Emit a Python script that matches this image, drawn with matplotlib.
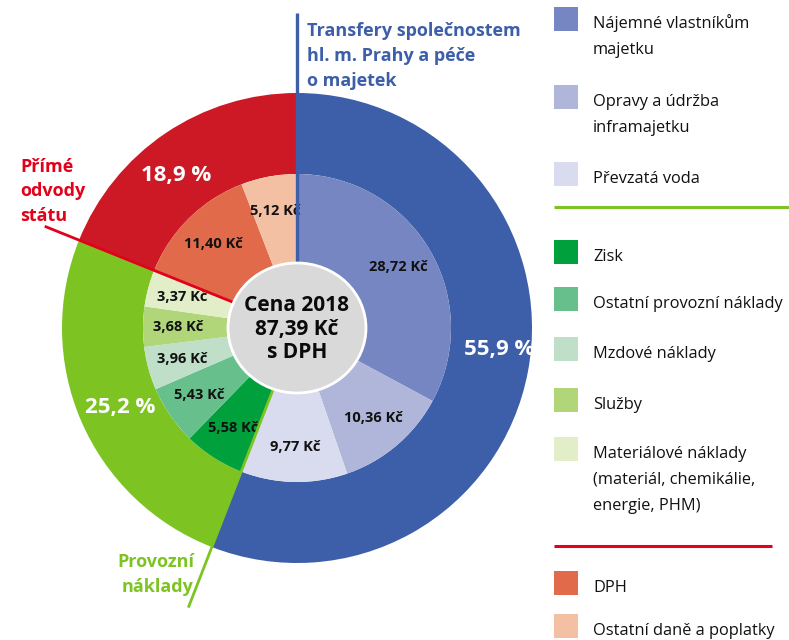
import numpy as np
import matplotlib.pyplot as plt
from matplotlib.patches import Ellipse, Rectangle

plt.rcParams['font.family'] = ['Open Sans', 'DejaVu Sans']

# outer ring - share of the price (%)
group_names = ['Transfery společnostem\nhl. m. Prahy a péče\no majetek',
               'Provozní\nnáklady',
               'Přímé\nodvody\nstátu']
group_pct = [55.9, 25.2, 18.9]
group_colors = ['#3d5ea8', '#7dc423', '#cd1926']
group_line_colors = ['#3d5ea8', '#7dc423', '#e2001a']

# inner pie - Kč per m3
item_names = ['Nájemné vlastníkům\nmajetku',
              'Opravy a údržba\ninframajetku',
              'Převzatá voda',
              'Zisk',
              'Ostatní provozní náklady',
              'Mzdové náklady',
              'Služby',
              'Materiálové náklady\n(materiál, chemikálie,\nenergie, PHM)',
              'DPH',
              'Ostatní daně a poplatky']
item_kc = [28.72, 10.36, 9.77, 5.58, 5.43, 3.96, 3.68, 3.37, 11.40, 5.12]
item_colors = ['#7686c2', '#b0b5da', '#d9dbee',
               '#00a03d', '#67c08c', '#bfdfc8', '#b0d679', '#e1eec8',
               '#e06a4a', '#f3c0a3']
center_text = 'Cena 2018\n87,39 Kč\ns DPH'

fig = plt.figure(figsize=(7.89, 6.4), dpi=100)
ax = fig.add_axes([0, 0, 1, 1])

cx, cy = 297, 328
r_out, r_in = 235, 154

ax.pie(group_pct, radius=r_out, center=(cx, cy), startangle=-90, counterclock=True,
       colors=group_colors, wedgeprops=dict(width=r_out - r_in, linewidth=0))

labels = [f'{v:.2f} Kč'.replace('.', ',') for v in item_kc]
wedges, texts = ax.pie(item_kc, radius=r_in, center=(cx, cy), startangle=-90,
                       counterclock=True, colors=item_colors, labels=labels,
                       labeldistance=0.77, wedgeprops=dict(linewidth=0),
                       textprops=dict(fontsize=10.5, fontweight='bold', color='#111111'))
for t in texts:
    t.set_ha('center')
    t.set_va('center')

ax.set_xlim(0, 789)
ax.set_ylim(640, 0)
ax.set_aspect('equal')
ax.axis('off')

# separator lines at the start of each group
starts = np.cumsum([0] + group_pct[:-1]) / 100
line_len = [315, 300, 272]
line_w = [2.4, 2.0, 2.0]
for frac, col, ln, lw in zip(starts, group_line_colors, line_len, line_w):
    a = np.deg2rad(-90 + frac * 360)
    ax.plot([cx, cx + ln * np.cos(a)], [cy, cy + ln * np.sin(a)], color=col, lw=lw,
            solid_capstyle='butt', zorder=4)

ax.add_patch(Ellipse((cx, cy), 138, 130, facecolor='#d9d9d9', edgecolor='white', lw=2, zorder=5))
ax.text(cx, cy + 1, center_text, ha='center', va='center', fontsize=15, fontweight='bold',
        linespacing=1.15, color='#0a0a0a', zorder=6)

# percentages in the ring
pct_pos = [(499, 350), (120, 408), (176, 176)]
for p, (x, y) in zip(group_pct, pct_pos):
    ax.text(x, y, f'{p:.1f} %'.replace('.', ','), ha='center', va='center', color='white',
            fontsize=16, fontweight='bold', zorder=6)


def lines(x, y0, txt, step, **kw):
    for k, s in enumerate(txt.split('\n')):
        ax.text(x, y0 + k * step, s, **kw)


# group names
lines(307, 31, group_names[0], 25, ha='left', va='center', fontsize=13,
      fontweight='bold', color=group_line_colors[0])
lines(194, 562, group_names[1], 25, ha='right', va='center', fontsize=13,
      fontweight='bold', color=group_line_colors[1])
lines(20, 167, group_names[2], 24.5, ha='left', va='center', fontsize=13,
      fontweight='bold', color=group_line_colors[2])

# legend
sq_tops = [7, 85, 162, 240, 287, 337, 388, 437, 571, 614]
for name, col, top in zip(item_names, item_colors, sq_tops):
    ax.add_patch(Rectangle((554, top), 24, 24, facecolor=col, edgecolor='none'))
    lines(593, top + 21, name, 26, ha='left', va='baseline', fontsize=11.8, color='#111111')

ax.plot([554, 789], [207, 207], color=group_line_colors[1], lw=2.2, solid_capstyle='butt')
ax.plot([554, 772], [546, 546], color=group_line_colors[2], lw=2.2, solid_capstyle='butt')

fig.savefig('out.png', dpi=100)
